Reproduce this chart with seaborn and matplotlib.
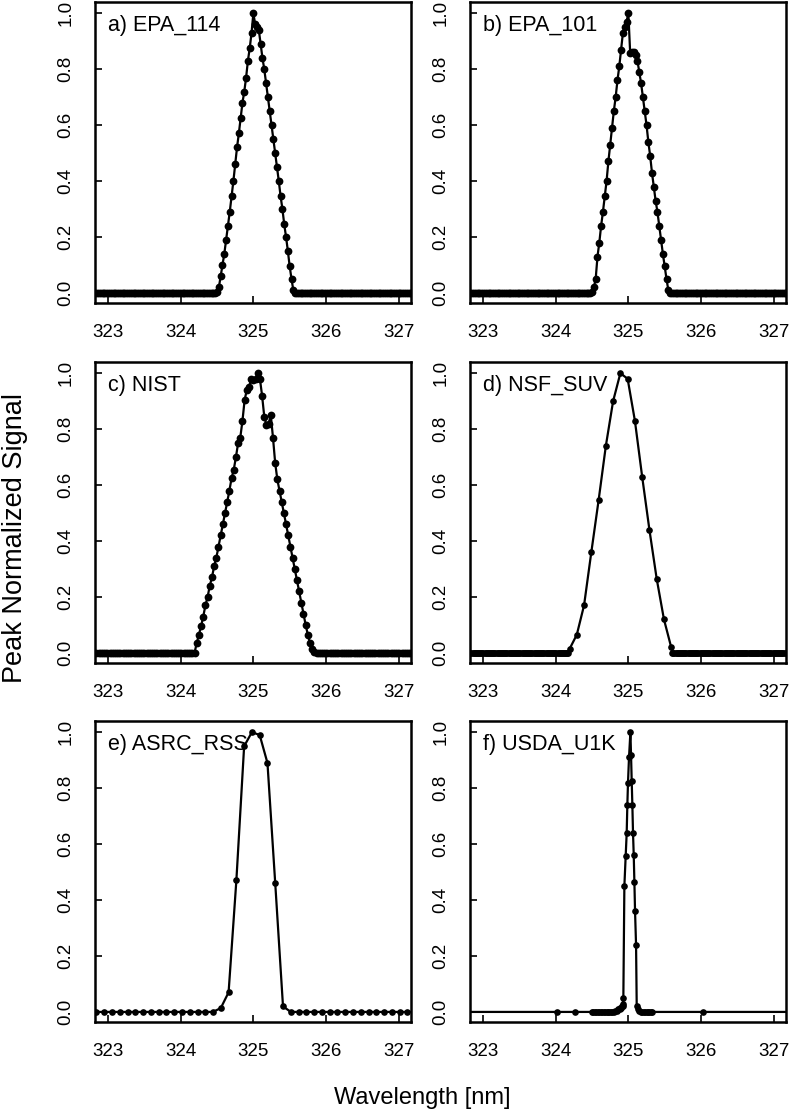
import numpy as np
import matplotlib
matplotlib.use("Agg")
import matplotlib.pyplot as plt
import seaborn as sns

sns.set_theme(style="ticks")
plt.rcParams["font.family"] = ["Liberation Sans", "DejaVu Sans"]
plt.rcParams["text.color"] = "black"

# ---- data (wavelength in nm, peak-normalized signal) ----
# a) EPA_114: peak samples every 0.025 nm starting at 324.50
a_start, a_step = 324.50, 0.025
a_peak = [0.005, 0.02, 0.06, 0.10, 0.14, 0.19, 0.24, 0.29, 0.345, 0.40, 0.46,
          0.52, 0.57, 0.625, 0.68, 0.72, 0.77, 0.83, 0.875, 0.93, 1.00,
          0.96, 0.95, 0.94, 0.89, 0.84, 0.80, 0.75, 0.70, 0.65, 0.60, 0.55,
          0.50, 0.45, 0.40, 0.345, 0.30, 0.245, 0.20, 0.15, 0.095, 0.05, 0.01]

# b) EPA_101
b_start, b_step = 324.50, 0.025
b_peak = [0.005, 0.02, 0.05, 0.13, 0.18, 0.24, 0.29, 0.345, 0.40, 0.47, 0.53,
          0.59, 0.65, 0.70, 0.76, 0.81, 0.87, 0.93, 0.95, 0.97, 1.00,
          0.857, 0.86, 0.86, 0.85, 0.83, 0.79, 0.75, 0.70, 0.65, 0.60, 0.54,
          0.49, 0.43, 0.38, 0.33, 0.29, 0.24, 0.19, 0.14, 0.095, 0.05, 0.01]

# c) NIST
c_start, c_step = 324.19, 0.03
c_peak = [0.0, 0.035, 0.065, 0.095, 0.13, 0.17, 0.20, 0.24, 0.27, 0.31, 0.34,
          0.38, 0.42, 0.46, 0.50, 0.54, 0.58, 0.625, 0.655, 0.70, 0.75, 0.77,
          0.83, 0.905, 0.94, 0.95, 0.98, 0.975, 0.98, 1.00,
          0.98, 0.92, 0.845, 0.815, 0.82, 0.85, 0.77, 0.68, 0.62, 0.58, 0.54,
          0.50, 0.46, 0.42, 0.38, 0.34, 0.30, 0.26, 0.22, 0.18, 0.14, 0.10,
          0.065, 0.035, 0.015, 0.005]

# d) NSF_SUV
d_start, d_step = 324.19, 0.1
d_peak = [0.014, 0.065, 0.17, 0.36, 0.545, 0.74, 0.90, 1.00, 0.98, 0.83,
          0.63, 0.44, 0.265, 0.12, 0.02]

# e) ASRC_RSS
e_start, e_step = 324.552, 0.107
e_peak = [0.014, 0.07, 0.47, 0.95, 1.00, 0.99, 0.89, 0.46, 0.02, 0.0]

# f) USDA_U1K (irregular sampling)
f_wl = [322.5, 324.02, 324.27, 324.50, 324.52, 324.54, 324.56, 324.58, 324.60,
        324.62, 324.64, 324.66, 324.68, 324.70, 324.72, 324.74, 324.76,
        324.78, 324.80, 324.82, 324.84, 324.86, 324.88, 324.89, 324.90,
        324.91, 324.92, 324.925, 324.931,
        324.945, 324.963, 324.977, 324.986, 324.995, 325.009, 325.028,
        325.037, 325.046, 325.055, 325.064, 325.074, 325.083, 325.092,
        325.106, 325.115, 325.13, 325.15, 325.17, 325.19, 325.21, 325.23,
        325.25, 325.27, 325.29, 325.31, 325.33, 326.03, 327.5]
f_sig = [0.0, 0.0, 0.0, 0.0, 0.0, 0.0, 0.0, 0.0, 0.0,
         0.0, 0.0, 0.0, 0.0, 0.0, 0.0, 0.0, 0.0,
         0.0, 0.0, 0.005, 0.005, 0.01, 0.01, 0.015, 0.015,
         0.02, 0.02, 0.03, 0.05,
         0.45, 0.557, 0.64, 0.74, 0.82, 0.91, 1.00,
         0.917, 0.825, 0.74, 0.64, 0.56, 0.464, 0.36,
         0.238, 0.02, 0.01, 0.005, 0.0, 0.0, 0.0, 0.0,
         0.0, 0.0, 0.0, 0.0, 0.0, 0.0, 0.0]

labels = ["a) EPA_114", "b) EPA_101", "c) NIST", "d) NSF_SUV",
          "e) ASRC_RSS", "f) USDA_U1K"]
x_ticks = [323, 324, 325, 326, 327]
y_ticks = [0.0, 0.2, 0.4, 0.6, 0.8, 1.0]


def with_baseline(start, step, peak, base_step, lo=322.5, hi=327.5):
    """Peak samples plus the flat zero baseline on both sides."""
    wl_peak = start + step * np.arange(len(peak))
    left = np.arange(start - base_step, lo, -base_step)[::-1]
    right = np.arange(wl_peak[-1] + base_step, hi, base_step)
    wl = np.concatenate([left, wl_peak, right])
    sig = np.concatenate([np.zeros(len(left)), peak, np.zeros(len(right))])
    return wl, sig


series = [
    with_baseline(a_start, a_step, a_peak, 0.025),
    with_baseline(b_start, b_step, b_peak, 0.025),
    with_baseline(c_start, c_step, c_peak, 0.03),
    with_baseline(d_start, d_step, d_peak, 0.015),
    with_baseline(e_start, e_step, e_peak, 0.107),
    (np.array(f_wl), np.array(f_sig)),
]
marker_sizes = [5.6, 5.6, 5.6, 4.8, 4.8, 4.8]

W, H = 789, 1114
fig = plt.figure(figsize=(W / 100, H / 100), dpi=100)
col_left = [95, 470]
row_top = [2, 362, 721]
ax_w, ax_h = 316, 301

for i, (wl, sig) in enumerate(series):
    r, c = divmod(i, 2)
    ax = fig.add_axes([col_left[c] / W, 1 - (row_top[r] + ax_h) / H,
                       ax_w / W, ax_h / H])
    sns.lineplot(x=wl, y=sig, ax=ax, color="black", linewidth=1.6,
                 marker="o", markersize=marker_sizes[i], markeredgewidth=0,
                 sort=False, estimator=None)
    ax.set_xlim(322.82, 327.17)
    ax.set_ylim(-0.036, 1.04)
    ax.set_xticks(x_ticks)
    ax.set_yticks(y_ticks)
    ax.set_yticklabels([f"{v:.1f}" for v in y_ticks])
    ax.tick_params(direction="in", length=5, width=1.2, labelsize=13.5,
                   pad=15, colors="black")
    ax.tick_params(axis="y", labelrotation=90)
    for lab in ax.get_yticklabels():
        lab.set_va("center")
    for sp in ax.spines.values():
        sp.set_linewidth(1.8)
        sp.set_color("black")
        sp.set_visible(True)
    ax.set_xlabel("")
    ax.set_ylabel("")
    ax.text(0.041, 0.958, labels[i], transform=ax.transAxes, ha="left",
            va="top", fontsize=15.5, color="black")

fig.text(0.019, 0.517, "Peak Normalized Signal", rotation=90, ha="center",
         va="center", fontsize=19.5, color="black")
fig.text(0.535, 0.014, "Wavelength [nm]", ha="center", va="center",
         fontsize=17, color="black")

fig.savefig("out.png", dpi=100)
